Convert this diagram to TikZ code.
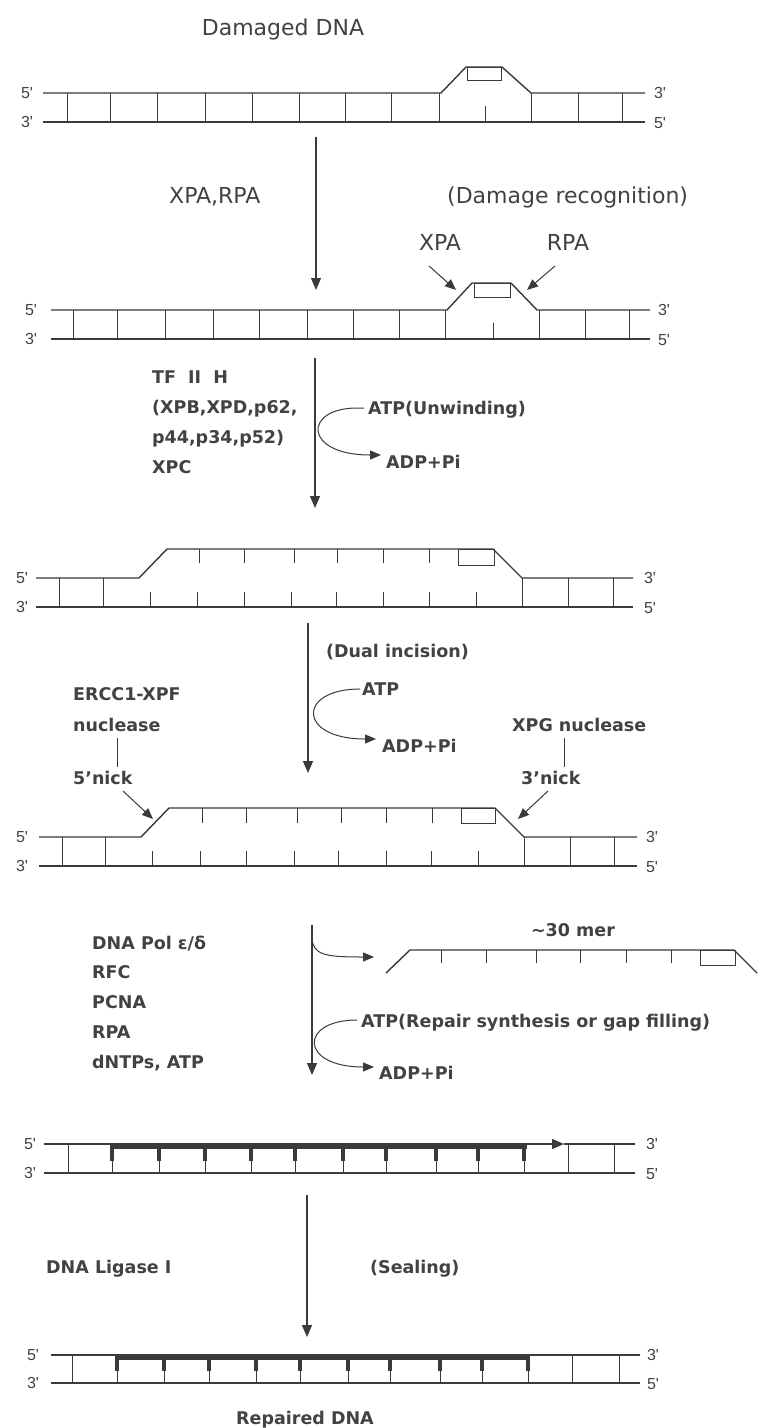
\documentclass[tikz,border=0pt]{standalone}
\usepackage{fontspec}
\setmainfont{DejaVu Sans}
\newfontfamily\endfont{Liberation Sans}
\usetikzlibrary{arrows.meta}
\definecolor{ink}{RGB}{58,58,58}
\definecolor{txt}{RGB}{66,66,66}
\begin{document}
\begin{tikzpicture}[x=1pt,y=-1pt,
  strand/.style={draw=ink,line width=1.4pt},
  bar/.style={draw=ink,line width=1pt},
  newstr/.style={draw=ink,line width=5.5pt},
  newtick/.style={draw=ink,line width=4pt},
  arr/.style={draw=ink,line width=1.2pt,-{Triangle[length=12pt,width=10pt]}},
  sarr/.style={draw=ink,line width=1pt,-{Triangle[length=11pt,width=9pt]}},
  reg/.style={text=txt,inner sep=0pt,font=\fontsize{22}{26}\selectfont},
  bld/.style={text=txt,inner sep=0pt,font=\bfseries\fontsize{17.5}{20}\selectfont},
  endl/.style={text=txt,inner sep=0pt,font=\endfont\fontsize{16}{18}\selectfont}]
\useasboundingbox (0,0) rectangle (758,1428);
\fill[white] (0,0) rectangle (758,1428);

% ---------- DNA 1 ----------
\node[reg,anchor=base] (t0) at (283,35) {Damaged DNA};
\draw[strand] (43,93) -- (441,93) -- (466,67) -- (502,67) -- (531,93) -- (645,93);
\draw[strand] (43,122) -- (645,122);
\draw[bar] (467,67) rectangle (501,80);
\foreach \x in {67,110,157,205,252,299,345,391,439,531,578,622} \draw[bar] (\x,93) -- (\x,122);
\draw[bar] (485,106) -- (485,122);
\node[endl] (d1a) at (27,93) {5\textquotesingle};
\node[endl] (d1b) at (27,122) {3\textquotesingle};
\node[endl] (d1c) at (660,93) {3\textquotesingle};
\node[endl] (d1d) at (660,123) {5\textquotesingle};

% arrow 1
\coordinate (a1s) at (316,137);
\coordinate (a1e) at (316,290);
\draw[arr] (a1s) -- (a1e);
\node[reg,anchor=base west] (xparpa) at (169,203) {XPA,RPA};
\node[reg,anchor=base west] (recog) at (447,203) {(Damage recognition)};
\node[reg,anchor=base] (xpa) at (440,250) {XPA};
\node[reg,anchor=base] (rpa) at (568,250) {RPA};
\coordinate (xpas) at (429,266);
\coordinate (xpae) at (456,290);
\coordinate (rpas) at (555,266);
\coordinate (rpae) at (527,290);
\draw[sarr] (xpas) -- (xpae);
\draw[sarr] (rpas) -- (rpae);

% ---------- DNA 2 ----------
\draw[strand] (51,310) -- (447,310) -- (472,283) -- (511,283) -- (537,310) -- (650,310);
\draw[strand] (51,339) -- (650,339);
\draw[bar] (474,283) rectangle (510,297);
\foreach \x in {73,117,165,213,259,307,353,399,445,539,585,629} \draw[bar] (\x,310) -- (\x,339);
\draw[bar] (493,323) -- (493,339);
\node[endl] (d2a) at (31,310) {5\textquotesingle};
\node[endl] (d2b) at (31,339) {3\textquotesingle};
\node[endl] (d2c) at (664,310) {3\textquotesingle};
\node[endl] (d2d) at (664,340) {5\textquotesingle};

% arrow 2
\coordinate (a2s) at (315,358);
\coordinate (a2e) at (315,508);
\draw[arr] (a2s) -- (a2e);
\node[bld,anchor=base west] (tf1) at (152,383) {TF\hspace{6pt} II\hspace{6pt} H};
\node[bld,anchor=base west] (tf2) at (152,413) {(XPB,XPD,p62,};
\node[bld,anchor=base west] (tf3) at (152,443) {p44,p34,p52)};
\node[bld,anchor=base west] (tf4) at (152,473) {XPC};
\node[bld,anchor=base west] (atp1) at (368,414) {ATP(Unwinding)};
\node[bld,anchor=base west] (adp1) at (386,468) {ADP+Pi};
\coordinate (c1s) at (364,408);
\coordinate (c1e) at (381,455);
\draw[sarr] (c1s) -- (357,408) .. controls (303,408) and (303,455) .. (c1e);

% ---------- DNA 3 ----------
\draw[strand] (36,578) -- (139,578) -- (167,549) -- (493,549) -- (522,578) -- (633,578);
\draw[strand] (36,607) -- (633,607);
\draw[bar] (458,549) rectangle (494,565);
\foreach \x in {59,103,522,568,613} \draw[bar] (\x,578) -- (\x,607);
\foreach \x in {199,244,294,337,383,429} \draw[bar] (\x,549) -- (\x,563);
\foreach \x in {150,197,244,291,336,383,429,476} \draw[bar] (\x,607) -- (\x,592);
\node[endl] (d3a) at (22,578) {5\textquotesingle};
\node[endl] (d3b) at (22,607) {3\textquotesingle};
\node[endl] (d3c) at (650,578) {3\textquotesingle};
\node[endl] (d3d) at (650,608) {5\textquotesingle};

% arrow 3
\coordinate (a3s) at (308,623);
\coordinate (a3e) at (308,773);
\draw[arr] (a3s) -- (a3e);
\node[bld,anchor=base west] (dual) at (326,657) {(Dual incision)};
\node[bld,anchor=base west] (atp2) at (362,695) {ATP};
\node[bld,anchor=base west] (adp2) at (382,752) {ADP+Pi};
\coordinate (c2s) at (360,689);
\coordinate (c2e) at (376,739);
\draw[sarr] (c2s) .. controls (297,689) and (297,739) .. (c2e);
\node[bld,anchor=base west] (ercc) at (73,700) {ERCC1-XPF};
\node[bld,anchor=base west] (nuc1) at (73,731) {nuclease};
\node[bld,anchor=base west] (nick5) at (73,784) {5'nick};
\node[bld,anchor=base west] (xpg) at (512,731) {XPG nuclease};
\node[bld,anchor=base west] (nick3) at (521,784) {3'nick};
\coordinate (l1s) at (117,738);
\coordinate (l1e) at (117,767);
\coordinate (l2s) at (564,738);
\coordinate (l2e) at (564,767);
\draw[bar] (l1s) -- (l1e);
\draw[bar] (l2s) -- (l2e);
\coordinate (n5s) at (123,791);
\coordinate (n5e) at (153,819);
\coordinate (n3s) at (548,791);
\coordinate (n3e) at (518,819);
\draw[sarr] (n5s) -- (n5e);
\draw[sarr] (n3s) -- (n3e);

% ---------- DNA 4 ----------
\draw[strand] (39,837) -- (141,837) -- (169,808) -- (495,808) -- (524,837) -- (637,837);
\draw[strand] (39,866) -- (637,866);
\draw[bar] (461,808) rectangle (495,823);
\foreach \x in {62,105,524,570,614} \draw[bar] (\x,837) -- (\x,866);
\foreach \x in {202,246,297,341,386,432} \draw[bar] (\x,808) -- (\x,823);
\foreach \x in {152,200,246,294,338,386,431,478} \draw[bar] (\x,866) -- (\x,851);
\node[endl] (d4a) at (22,837) {5\textquotesingle};
\node[endl] (d4b) at (22,866) {3\textquotesingle};
\node[endl] (d4c) at (652,837) {3\textquotesingle};
\node[endl] (d4d) at (652,867) {5\textquotesingle};

% arrow 4
\coordinate (a4s) at (312,925);
\coordinate (a4e) at (312,1075);
\draw[arr] (a4s) -- (a4e);
\node[bld,anchor=base west] (pol1) at (92,949) {DNA Pol ε/δ};
\node[bld,anchor=base west] (pol2) at (92,978) {RFC};
\node[bld,anchor=base west] (pol3) at (92,1008) {PCNA};
\node[bld,anchor=base west] (pol4) at (92,1038) {RPA};
\node[bld,anchor=base west] (pol5) at (92,1068) {dNTPs, ATP};
\node[bld,anchor=base] (mer) at (573,936) {\textasciitilde30 mer};
\coordinate (c3s) at (312,938);
\coordinate (c3e) at (374,957);
\draw[sarr] (c3s) .. controls (313,955) and (325,957) .. (c3e);
% excised fragment
\draw[strand] (386,973) -- (410,950) -- (734,950) -- (757,973);
\draw[bar] (700,950) rectangle (735,965);
\foreach \x in {441,486,536,580,626,671} \draw[bar] (\x,950) -- (\x,963);
\node[bld,anchor=base west] (atp3) at (361,1027) {ATP(Repair synthesis or gap filling)};
\node[bld,anchor=base west] (adp3) at (379,1079) {ADP+Pi};
\coordinate (c4s) at (357,1020);
\coordinate (c4e) at (374,1067);
\draw[sarr] (c4s) .. controls (299,1020) and (299,1067) .. (c4e);

% ---------- DNA 5 ----------
\draw[strand] (44,1173) -- (635,1173);
\coordinate (p5a) at (527,1144);
\coordinate (p5b) at (564,1144);
\draw[strand] (44,1144) -- (p5a);
\draw[strand] (p5b) -- (635,1144);
\draw[draw=ink,line width=1.4pt,-{Triangle[length=12pt,width=10pt]}] (p5a) -- (p5b);
\foreach \x in {68,568,614} \draw[bar] (\x,1144) -- (\x,1173);
\foreach \x in {112,159,205,251,295,343,386,436,478,524} {
  \draw[bar] (\x,1144) -- (\x,1173);
  \draw[newtick] (\x,1145) -- (\x,1161);
}
\draw[newstr] (110,1146) -- (527,1146);
\node[endl] (d5a) at (30,1144) {5\textquotesingle};
\node[endl] (d5b) at (30,1173) {3\textquotesingle};
\node[endl] (d5c) at (652,1144) {3\textquotesingle};
\node[endl] (d5d) at (652,1174) {5\textquotesingle};

% arrow 5
\coordinate (a5s) at (307,1195);
\coordinate (a5e) at (307,1337);
\draw[arr] (a5s) -- (a5e);
\node[bld,anchor=base west] (lig) at (46,1273) {DNA Ligase I};
\node[bld,anchor=base west] (seal) at (370,1273) {(Sealing)};

% ---------- DNA 6 ----------
\draw[strand] (51,1355) -- (640,1355);
\draw[strand] (51,1383) -- (640,1383);
\foreach \x in {72,572,619} \draw[bar] (\x,1355) -- (\x,1383);
\foreach \x in {117,164,209,256,300,348,390,440,482,528} {
  \draw[bar] (\x,1355) -- (\x,1383);
  \draw[newtick] (\x,1356) -- (\x,1371);
}
\draw[newstr] (116,1357) -- (530,1357);
\node[endl] (d6a) at (33,1355) {5\textquotesingle};
\node[endl] (d6b) at (33,1383) {3\textquotesingle};
\node[endl] (d6c) at (653,1355) {3\textquotesingle};
\node[endl] (d6d) at (653,1384) {5\textquotesingle};
\node[bld,anchor=base] (rep) at (305,1424) {Repaired DNA};
\end{tikzpicture}
\end{document}
